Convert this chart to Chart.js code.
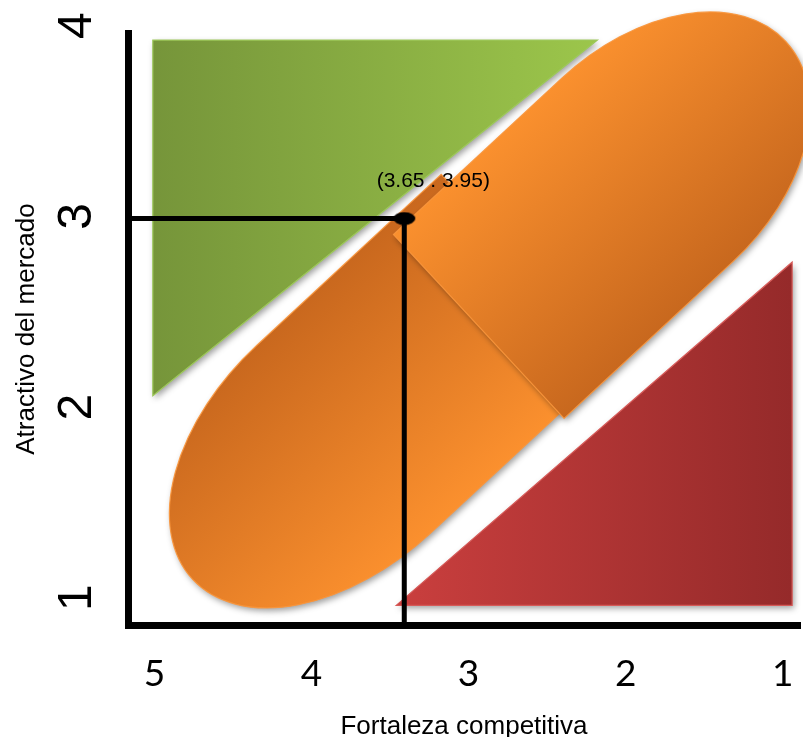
<!DOCTYPE html>
<html>
<head>
<meta charset="utf-8">
<script src="https://cdn.jsdelivr.net/npm/chart.js@4.4.1/dist/chart.umd.min.js"></script>
<style>
  html, body { margin: 0; padding: 0; background: #ffffff; }
  #wrap { width: 803px; height: 737px; }
</style>
</head>
<body>
<div id="wrap"><canvas id="chart" width="803" height="737"></canvas></div>
<script>
// Tick labels of the two axes
const xTicks = [5, 4, 3, 2, 1];
const yTicks = [4, 3, 2, 1];

// Visible axis ranges (x reversed: strong on the left)
const xRange = [0.89, 5.168];
const yRange = [0.857, 3.962];

// Score axes used by the evaluated business unit
const scoreXRange = [1, 5.5];
const scoreYRange = [1.65, 5];

// Evaluated unit: (competitive strength, market attractiveness)
const pointX = 3.65;
const pointY = 3.95;

// Zone outlines in axis units
const zoneGreen = [[5.01, 3.925], [2.18, 3.925], [5.01, 2.06]];
const zoneRed = [[3.46, 0.96], [0.94, 0.96], [0.94, 2.76]];
// Orange band, drawn as two overlapping rounded halves: cut edge + far tip
const bandLowerCut = [[3.174, 3.221], [2.066, 2.237]];
const bandLowerTip = [4.756, 1.096];
const bandUpperCut = [[3.478, 2.905], [2.392, 1.941]];
const bandUpperTip = [0.98, 3.917];

const CAP_FRACTION = 0.45;
const NO_PADDING = () => ({ left: 0, top: 0, right: 0, bottom: 0 });

function toPx(chart, p) {
  return [chart.scales.x.getPixelForValue(p[0]), chart.scales.y.getPixelForValue(p[1])];
}

function withShadow(ctx) {
  ctx.shadowColor = 'rgba(0,0,0,0.38)';
  ctx.shadowBlur = 6;
  ctx.shadowOffsetX = 2;
  ctx.shadowOffsetY = 3;
}

function drawTriangle(chart, pts, c0, c1, edge) {
  const ctx = chart.ctx;
  const p = pts.map(v => toPx(chart, v));
  const xs = p.map(v => v[0]);
  const g = ctx.createLinearGradient(Math.min(...xs), 0, Math.max(...xs), 0);
  g.addColorStop(0, c0);
  g.addColorStop(1, c1);
  ctx.save();
  ctx.beginPath();
  ctx.moveTo(p[0][0], p[0][1]);
  for (let i = 1; i < p.length; i++) ctx.lineTo(p[i][0], p[i][1]);
  ctx.closePath();
  withShadow(ctx);
  ctx.fillStyle = g;
  ctx.fill();
  ctx.shadowColor = 'transparent';
  ctx.strokeStyle = edge;
  ctx.lineWidth = 1.2;
  ctx.stroke();
  ctx.restore();
}

function drawBandHalf(chart, cut, tip, colA, colB) {
  const ctx = chart.ctx;
  const a = toPx(chart, cut[0]);
  const b = toPx(chart, cut[1]);
  const t = toPx(chart, tip);
  const mx = (a[0] + b[0]) / 2, my = (a[1] + b[1]) / 2;
  const hw = Math.hypot(b[0] - a[0], b[1] - a[1]) / 2;
  const cx = (b[0] - a[0]) / (2 * hw), cy = (b[1] - a[1]) / (2 * hw);
  let ax = cy, ay = -cx;
  if ((t[0] - mx) * ax + (t[1] - my) * ay < 0) { ax = -ax; ay = -ay; }
  const len = (t[0] - mx) * ax + (t[1] - my) * ay;
  const cap = len * CAP_FRACTION;

  ctx.save();
  ctx.save();
  ctx.translate(mx, my);
  ctx.rotate(Math.atan2(ay, ax));
  ctx.beginPath();
  ctx.moveTo(0, -hw);
  ctx.lineTo(len - cap, -hw);
  ctx.ellipse(len - cap, 0, cap, hw, 0, -Math.PI / 2, Math.PI / 2);
  ctx.lineTo(0, hw);
  ctx.closePath();
  ctx.restore();

  const g = ctx.createLinearGradient(a[0], a[1], b[0], b[1]);
  g.addColorStop(0, colA);
  g.addColorStop(1, colB);
  withShadow(ctx);
  ctx.fillStyle = g;
  ctx.fill();
  ctx.shadowColor = 'transparent';
  ctx.strokeStyle = 'rgba(250,150,60,0.9)';
  ctx.lineWidth = 1.2;
  ctx.stroke();
  ctx.restore();
}

const zonesPlugin = {
  id: 'zones',
  beforeDatasetsDraw(chart) {
    drawTriangle(chart, zoneGreen, '#76953a', '#9cc64b', '#9dc85a');
    drawTriangle(chart, zoneRed, '#ca3f3e', '#952a2a', '#d65a58');
    drawBandHalf(chart, bandLowerCut, bandLowerTip, '#c9681e', '#fb902e');
    drawBandHalf(chart, bandUpperCut, bandUpperTip, '#fa902e', '#c8681e');
  },
  afterDatasetsDraw(chart) {
    const el = chart.getDatasetMeta(0).data[0];
    if (!el) return;
    const ctx = chart.ctx;
    ctx.save();
    ctx.font = '21px "Liberation Sans", Arial, sans-serif';
    ctx.fillStyle = '#000000';
    ctx.textAlign = 'center';
    ctx.textBaseline = 'middle';
    ctx.fillText('(' + pointX.toFixed(2) + ' . ' + pointY.toFixed(2) + ')', el.x + 29, el.y - 37);
    ctx.restore();
  }
};

// Black elliptical marker for the evaluated unit
const marker = document.createElement('canvas');
marker.width = 24;
marker.height = 14;
(function () {
  const m = marker.getContext('2d');
  m.fillStyle = '#000000';
  m.beginPath();
  m.ellipse(12, 7, 11, 6.5, 0, 0, Math.PI * 2);
  m.fill();
})();

new Chart(document.getElementById('chart'), {
  type: 'scatter',
  data: {
    datasets: [
      {
        label: 'Unidad',
        data: [{ x: pointX, y: pointY }],
        xAxisID: 'x2',
        yAxisID: 'y2',
        pointStyle: marker,
        pointRadius: 11,
        showLine: false
      },
      {
        label: 'Guías',
        data: [
          { x: scoreXRange[1], y: pointY },
          { x: pointX, y: pointY },
          { x: pointX, y: scoreYRange[0] }
        ],
        xAxisID: 'x2',
        yAxisID: 'y2',
        showLine: true,
        borderColor: '#000000',
        borderWidth: 5,
        pointRadius: 0,
        tension: 0
      }
    ]
  },
  options: {
    responsive: false,
    animation: false,
    layout: { autoPadding: false, padding: { top: 33, right: 3, left: 0, bottom: 0 } },
    plugins: { legend: { display: false }, tooltip: { enabled: false } },
    scales: {
      x: {
        type: 'linear',
        position: 'bottom',
        reverse: true,
        min: xRange[0],
        max: xRange[1],
        grid: { display: false },
        border: { display: true, color: '#000000', width: 7 },
        ticks: {
          color: '#000000',
          font: { family: 'Lato', size: 37 },
          padding: 19,
          maxRotation: 0,
          autoSkip: false
        },
        title: {
          display: true,
          text: 'Fortaleza competitiva',
          color: '#000000',
          font: { family: '"Liberation Sans", Arial, sans-serif', size: 26, lineHeight: 0.8 },
          padding: 0
        },
        afterBuildTicks: s => { s.ticks = xTicks.map(v => ({ value: v })); },
        afterFit: s => {
          s.height = 112;
          s.paddingLeft = 0;
          s.paddingRight = 0;
          s.getPadding = NO_PADDING;
        }
      },
      y: {
        type: 'linear',
        position: 'left',
        min: yRange[0],
        max: yRange[1],
        grid: { display: false },
        border: { display: true, color: '#000000', width: 7 },
        ticks: {
          color: '#000000',
          font: { family: '"Liberation Sans", Arial, sans-serif', size: 48 },
          padding: 29,
          minRotation: 90,
          maxRotation: 90,
          crossAlign: 'center',
          autoSkip: false
        },
        title: {
          display: true,
          text: 'Atractivo del mercado',
          color: '#000000',
          font: { family: '"Liberation Sans", Arial, sans-serif', size: 26 },
          padding: { top: 11, bottom: 0 }
        },
        afterBuildTicks: s => { s.ticks = yTicks.map(v => ({ value: v })); },
        afterFit: s => {
          s.width = 128;
          s.paddingTop = 0;
          s.paddingBottom = 0;
          s.getPadding = NO_PADDING;
        }
      },
      x2: {
        type: 'linear',
        axis: 'x',
        display: false,
        reverse: true,
        min: scoreXRange[0],
        max: scoreXRange[1]
      },
      y2: {
        type: 'linear',
        axis: 'y',
        display: false,
        min: scoreYRange[0],
        max: scoreYRange[1]
      }
    }
  },
  plugins: [zonesPlugin]
});
</script>
</body>
</html>
